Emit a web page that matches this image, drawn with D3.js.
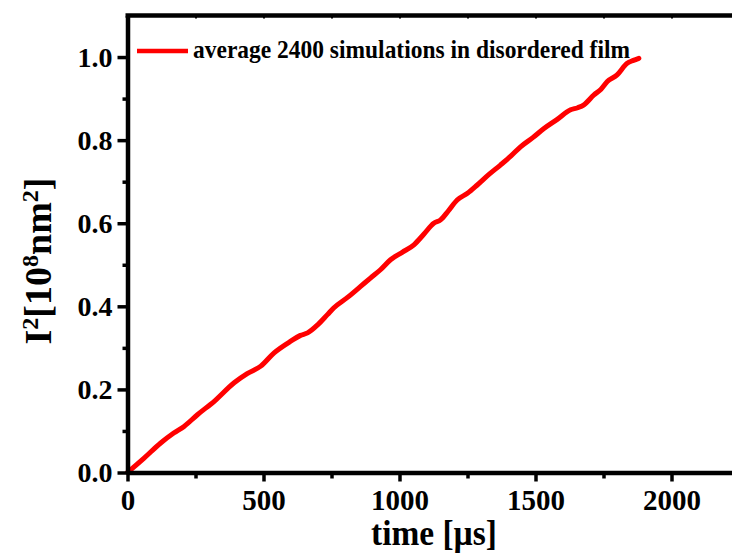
<!DOCTYPE html>
<html><head><meta charset="utf-8">
<script src="https://cdn.jsdelivr.net/npm/d3@7"></script>
<style>
html,body{margin:0;padding:0;background:#fff;}
svg{display:block;}
svg text{font-family:'Liberation Serif' !important;font-weight:bold;}
</style></head>
<body>
<script>
// ---- data ----
const timeUs = [0, 60, 122, 170, 208, 257, 320, 392, 440, 490, 539, 600, 636, 662, 700, 735, 758, 810, 857, 893, 930, 967, 1010, 1053, 1090, 1126, 1151, 1180, 1212, 1250, 1286, 1330, 1371, 1410, 1445, 1490, 1531, 1580, 1629, 1655, 1678, 1715, 1740, 1764, 1800, 1837, 1860, 1880];
const r2 = [0, 0.034, 0.071, 0.095, 0.111, 0.139, 0.172, 0.216, 0.238, 0.256, 0.288, 0.316, 0.330, 0.336, 0.356, 0.380, 0.396, 0.422, 0.448, 0.468, 0.488, 0.512, 0.530, 0.548, 0.574, 0.600, 0.608, 0.630, 0.656, 0.672, 0.692, 0.718, 0.740, 0.762, 0.784, 0.806, 0.828, 0.850, 0.873, 0.878, 0.885, 0.909, 0.922, 0.941, 0.957, 0.985, 0.992, 0.997];
const xMajorTicks = [0, 500, 1000, 1500, 2000];
const xMinorTicks = [250, 750, 1250, 1750];
const yMajorTicks = [0.0, 0.2, 0.4, 0.6, 0.8, 1.0];
const yMinorTicks = [0.1, 0.3, 0.5, 0.7, 0.9];
const legendLabel = "average 2400 simulations in disordered film";

const W = 732, H = 556;
const svg = d3.select("body").append("svg").attr("width", W).attr("height", H);

const x = d3.scaleLinear().domain([0, 2250]).range([127.5, 739.5]);
const y = d3.scaleLinear().domain([0, 1.1]).range([472.5, 15.5]);

// data line
const line = d3.line().curve(d3.curveMonotoneX).x((d, i) => x(timeUs[i])).y((d, i) => y(r2[i]));
svg.append("path").datum(r2).attr("d", line)
  .attr("fill", "none").attr("stroke", "#ff0000").attr("stroke-width", 5)
  .attr("stroke-linejoin", "round").attr("stroke-linecap", "round");

// axes
const axisStroke = 4.5;
function styleAxis(g) {
  g.attr("font-family", null);
  g.select(".domain").attr("stroke", "#000").attr("stroke-width", axisStroke);
  g.selectAll(".tick line").attr("stroke", "#000").attr("stroke-width", 3.5);
  g.selectAll("text").attr("fill", "#000");
}

// bottom major
const gxB = svg.append("g").attr("transform", `translate(0,${y(0)})`)
  .call(d3.axisBottom(x).tickValues(xMajorTicks).tickSize(9).tickSizeOuter(0).tickPadding(8).tickFormat(d3.format("d")));
styleAxis(gxB);
gxB.selectAll("text").style("font-size", "29px").attr("dy", "0.71em");
// bottom minor
const gxBm = svg.append("g").attr("transform", `translate(0,${y(0)})`)
  .call(d3.axisBottom(x).tickValues(xMinorTicks).tickSize(6).tickFormat(""));
gxBm.select(".domain").remove();
styleAxis(gxBm);

// left major
const gyL = svg.append("g").attr("transform", `translate(${x(0)},0)`)
  .call(d3.axisLeft(y).tickValues(yMajorTicks).tickSize(10).tickSizeOuter(0).tickPadding(5).tickFormat(d3.format(".1f")));
styleAxis(gyL);
gyL.selectAll("text").style("font-size", "28px").attr("dy", "0.32em");
const gyLm = svg.append("g").attr("transform", `translate(${x(0)},0)`)
  .call(d3.axisLeft(y).tickValues(yMinorTicks).tickSize(5).tickFormat(""));
gyLm.select(".domain").remove();
styleAxis(gyLm);

// top axis (ticks inside)
const gxT = svg.append("g").attr("transform", `translate(0,${y(1.1)})`)
  .call(d3.axisBottom(x).tickValues(xMajorTicks.concat(xMinorTicks)).tickSize(3).tickSizeOuter(0).tickFormat(""));
styleAxis(gxT);
gxT.selectAll(".tick line").attr("stroke-width", 2);
gxT.select(".domain").attr("d", `M${x(0) - 2},0H${W}`);

// axis titles
svg.append("text").attr("x", 434).attr("y", 545).attr("text-anchor", "middle")
  .style("font-size", "35px").attr("textLength", 126).attr("lengthAdjust", "spacingAndGlyphs")
  .text("time [\u00b5s]");

const yt = svg.append("text").attr("transform", "translate(51,261) rotate(-90)")
  .attr("text-anchor", "middle").style("font-size", "38px");
yt.append("tspan").text("I");
yt.append("tspan").style("font-size", "24px").attr("dy", -13).text("2");
yt.append("tspan").attr("dy", 13).text("[10");
yt.append("tspan").style("font-size", "24px").attr("dy", -13).text("8");
yt.append("tspan").attr("dy", 13).text("nm");
yt.append("tspan").style("font-size", "24px").attr("dy", -13).text("2");
yt.append("tspan").attr("dy", 13).text("]");

// legend
svg.append("line").attr("x1", 137).attr("x2", 188).attr("y1", 51).attr("y2", 51)
  .attr("stroke", "#ff0000").attr("stroke-width", 4.5);
svg.append("text").attr("x", 193).attr("y", 58).style("font-size", "25px")
  .attr("textLength", 437).attr("lengthAdjust", "spacingAndGlyphs").text(legendLabel);
</script>
</body></html>
